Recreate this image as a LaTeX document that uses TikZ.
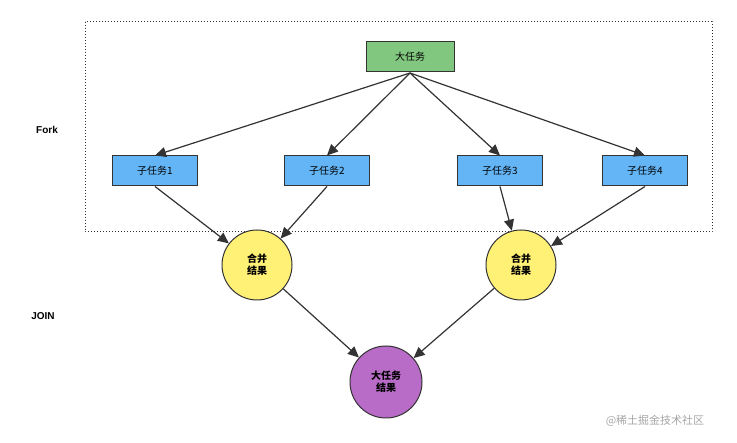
\documentclass[tikz,border=0pt]{standalone}
\usepackage{fontspec}
\setmainfont{Liberation Sans}
\newfontfamily\cjk{Noto Sans CJK SC}
\usetikzlibrary{arrows.meta}
\definecolor{lineC}{HTML}{333333}
\begin{document}
\begin{tikzpicture}[x=1pt,y=-1pt,
  box/.style={draw=lineC,line width=1pt,minimum width=85pt,minimum height=30pt,inner sep=0pt,font=\cjk\fontsize{10}{12}\selectfont},
  circ/.style={circle,draw=lineC,line width=1pt,minimum size=70pt,inner sep=0pt,align=center,font=\cjk\bfseries\fontsize{10}{12}\selectfont},
  arr/.style={draw=lineC,line width=1.2pt,-{Triangle[length=11pt,width=10pt]}},
  lab/.style={font=\bfseries\fontsize{10}{12}\selectfont}]
\useasboundingbox (0,0) rectangle (737,443);
\fill[white] (0,0) rectangle (737,443);
\draw[line width=1pt,dotted,lineC] (85,22) rectangle (712,232);
\node[box,fill={rgb,255:red,130;green,199;blue,127},minimum width=88pt] (top) at (410,57) {大任务};
\node[box,fill={rgb,255:red,100;green,181;blue,246}] (s1) at (155,171) {子任务1};
\node[box,fill={rgb,255:red,100;green,181;blue,246}] (s2) at (327,171) {子任务2};
\node[box,fill={rgb,255:red,100;green,181;blue,246}] (s3) at (500,171) {子任务3};
\node[box,fill={rgb,255:red,100;green,181;blue,246}] (s4) at (645,171) {子任务4};
\node[circ,fill={rgb,255:red,255;green,241;blue,118}] (c1) at (257,265) {合并\\结果};
\node[circ,fill={rgb,255:red,255;green,241;blue,118}] (c2) at (521,265) {合并\\结果};
\node[circ,fill={rgb,255:red,184;green,108;blue,200},minimum size=72pt] (f) at (386,382) {大任务\\结果};
\node[lab] (fork) at (47,130) {Fork};
\node[lab] (join) at (43,316) {JOIN};
\node[font=\cjk\fontsize{11}{13}\selectfont,text=gray!70] (wm) at (655,421) {@稀土掘金技术社区};
\coordinate (tb) at (410,73);
\draw[arr] (tb) -- (s1.north);
\draw[arr] (tb) -- (s2.north);
\draw[arr] (tb) -- (s3.north);
\draw[arr] (tb) -- (s4.north);
\draw[arr] (s1.south) -- (c1);
\draw[arr] (s2.south) -- (c1);
\draw[arr] (s3.south) -- (c2);
\draw[arr] (s4.south) -- (c2);
\draw[arr] (c1) -- (f);
\draw[arr] (c2) -- (f);
\end{tikzpicture}
\end{document}
